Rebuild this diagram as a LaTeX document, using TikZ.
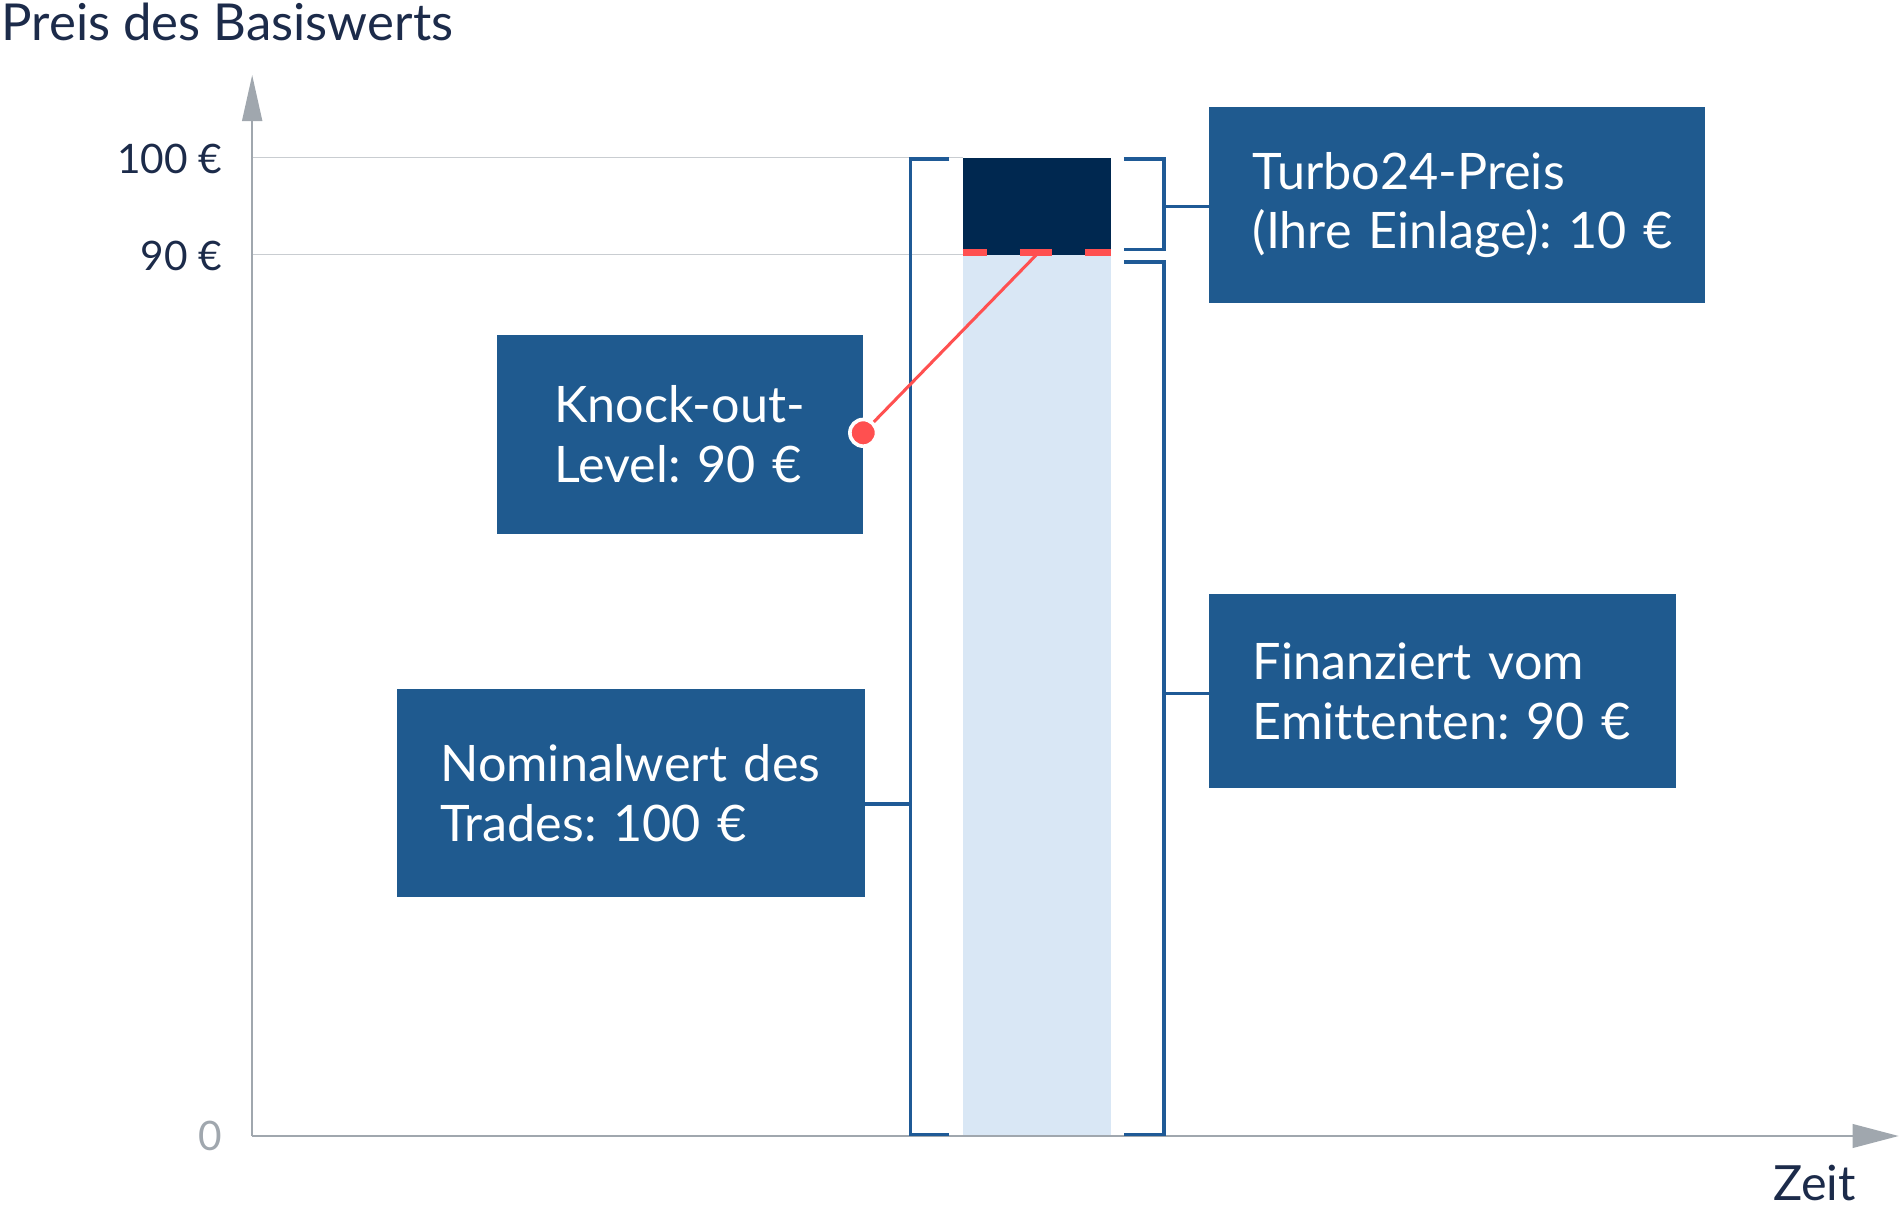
\documentclass[tikz,border=0pt]{standalone}
\usepackage{fontspec}
\setmainfont{Lato}[Ligatures=NoCommon]
\frenchspacing
\usetikzlibrary{calc}
\definecolor{boxblue}{HTML}{1F5A8F}
\definecolor{brblue}{HTML}{1F5A96}
\definecolor{darknavy}{HTML}{002850}
\definecolor{lightbar}{HTML}{D9E7F5}
\definecolor{koRed}{HTML}{FF5050}
\definecolor{axgray}{HTML}{A0A7AE}
\definecolor{gridgray}{HTML}{C9CDD1}
\definecolor{txtdark}{HTML}{1C2B4A}
\tikzset{
  infobox/.style={fill=boxblue, text=white, align=left, inner ysep=0pt,
    font=\fontsize{41.5}{49}\selectfont, anchor=north west},
  bracket/.style={draw=brblue, line width=2.8pt},
  axislabel/.style={text=txtdark, inner sep=0pt},
  ticklabel/.style={text=txtdark, font=\fontsize{33.5}{38}\selectfont, inner sep=0pt, anchor=east},
}
\begin{document}
\begin{tikzpicture}[x=1pt,y=-1pt]
\useasboundingbox (0,0) rectangle (1568,1000.5);
% bar
\fill[lightbar] (794,210) rectangle (916,937);
\fill[darknavy] (794,130) rectangle (916,210);
% grid lines
\draw[gridgray, line width=1.3pt] (208,130) -- (794,130);
\draw[gridgray, line width=1.3pt] (208,210) -- (794,210);
% axes
\coordinate (origin) at (208,937);
\coordinate (ytip) at (208,62);
\coordinate (xtip) at (1566,937);
\draw[axgray, line width=1.3pt] (origin) -- (208,98);
\draw[axgray, line width=1.3pt] (origin) -- (1530,937);
\fill[axgray] (ytip) -- (199.5,100) -- (216.5,100) -- cycle;
\fill[axgray] (xtip) -- (1528,927) -- (1528,947) -- cycle;
% labels
\node[axislabel, font=\fontsize{42}{48}\selectfont, anchor=base west] (ytitle) at (1,33) {Preis des Basiswerts};
\node[axislabel, font=\fontsize{40}{46}\selectfont, anchor=base east] (xtitle) at (1531,990) {Zeit};
\node[ticklabel] (t100) at (183,131) {100 €};
\node[ticklabel] (t90) at (183,211) {90 €};
\node[ticklabel, text=axgray] (t0) at (183,937) {0};
% red dashes
\draw[koRed, line width=6pt] (794,208) -- (814,208);
\draw[koRed, line width=6pt] (841,208) -- (868,208);
\draw[koRed, line width=6pt] (895,208) -- (916,208);
% boxes
\node[infobox, minimum width=409pt, minimum height=162pt, text width=337pt, inner xsep=36pt] (turbo) at (997,88) {\mbox{Turbo24-Preis}\\\mbox{(Ihre Einlage): 10 €}};
\node[infobox, minimum width=302pt, minimum height=164pt, text width=208pt, inner xsep=47pt] (ko) at (410,276) {\mbox{Knock-out-}\\\mbox{Level: 90 €}};
\node[infobox, minimum width=386pt, minimum height=172pt, text width=314pt, inner xsep=36pt] (nom) at (327,568) {\mbox{Nominalwert des}\\\mbox{Trades: 100 €}};
\node[infobox, minimum width=385pt, minimum height=160pt, text width=313pt, inner xsep=36pt] (fin) at (997,490) {\mbox{Finanziert vom}\\\mbox{Emittenten: 90 €}};
% left bracket
\draw[bracket] (783,131) -- (751,131) -- (751,936) -- (783,936);
\coordinate (lbr) at (751,663);
\draw[bracket] (lbr) -- (lbr -| nom.east);
% right top bracket
\draw[bracket] (927,131) -- (960,131) -- (960,206) -- (927,206);
\coordinate (tbr) at (960,170.5);
\draw[bracket] (tbr) -- (tbr -| turbo.west);
% right bottom bracket
\draw[bracket] (927,216) -- (960,216) -- (960,936) -- (927,936);
\coordinate (fbr) at (960,572);
\draw[bracket] (fbr) -- (fbr -| fin.west);
% knock-out pointer
\coordinate (kolevel) at (855,210);
\node[circle, fill=koRed, draw=white, line width=3pt, minimum size=22pt, inner sep=0pt] (kodot) at (712,357) {};
\draw[koRed, line width=2.5pt] (kolevel) -- (kodot);
\end{tikzpicture}
\end{document}
